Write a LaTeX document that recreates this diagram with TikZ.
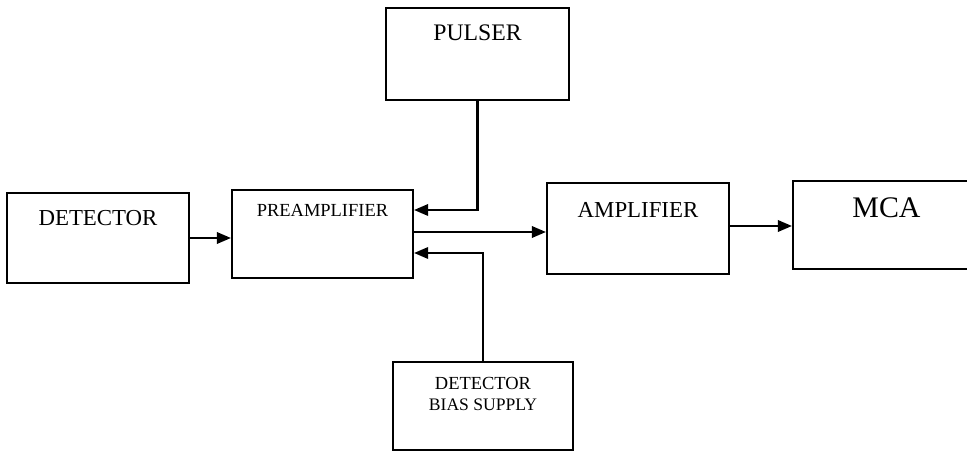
\documentclass[tikz,border=0pt]{standalone}
\usepackage{fontspec}
\setmainfont{Liberation Serif}
\usetikzlibrary{arrows.meta}
\begin{document}
\begin{tikzpicture}[box/.style={rectangle, draw, line width=1.2pt, minimum height=1.8cm},
	arr/.style={line width=1.2pt, -{Triangle[length=8pt,width=6.5pt]}}]
	\useasboundingbox (0,0) rectangle (19.34,9.06);
	\node (det) [box, minimum width=3.64cm] at (1.96,4.3) {};
	\node (pre) [box, minimum width=3.62cm, minimum height=1.76cm] at (6.45,4.38) {};
	\node (pul) [box, minimum width=3.66cm, minimum height=1.84cm] at (9.55,7.98) {};
	\node (amp) [box, minimum width=3.64cm, minimum height=1.82cm] at (12.76,4.49) {};
	\node (mca) [box, minimum width=3.74cm, minimum height=1.76cm] at (17.73,4.56) {};
	\node (bias) [box, minimum width=3.6cm, minimum height=1.76cm] at (9.66,0.94) {};
	% Labels
	\node (dettext) at (1.96,4.7) {\fontsize{13}{15}\selectfont DETECTOR};
	\node (pretext) at (6.45,4.86) {\fontsize{10.5}{12}\selectfont PREAMPLIFIER};
	\node (pultext) at (9.55,8.4) {\fontsize{13.5}{15}\selectfont PULSER};
	\node (amptext) at (12.76,4.86) {\fontsize{13}{15}\selectfont AMPLIFIER};
	\node (mcatext) at (17.73,4.9) {\fontsize{17}{19}\selectfont MCA};
	\node (biastext) [align=center] at (9.66,1.18) {\fontsize{10.5}{11}\selectfont DETECTOR\\BIAS SUPPLY};
	% Arrows
	\draw[arr] (det.east) -- (det.east -| pre.west);
	\draw[arr] ([yshift=0.04cm]pre.east) -- ([yshift=0.04cm]pre.east -| amp.west);
	\draw[arr] ([yshift=0.05cm]amp.east) -- ([yshift=0.05cm]amp.east -| mca.west);
	\draw[arr] (pul.south) |- ([yshift=0.48cm]pre.east);
	\draw[arr] (bias.north) |- ([yshift=-0.38cm]pre.east);
\end{tikzpicture}
\end{document}
